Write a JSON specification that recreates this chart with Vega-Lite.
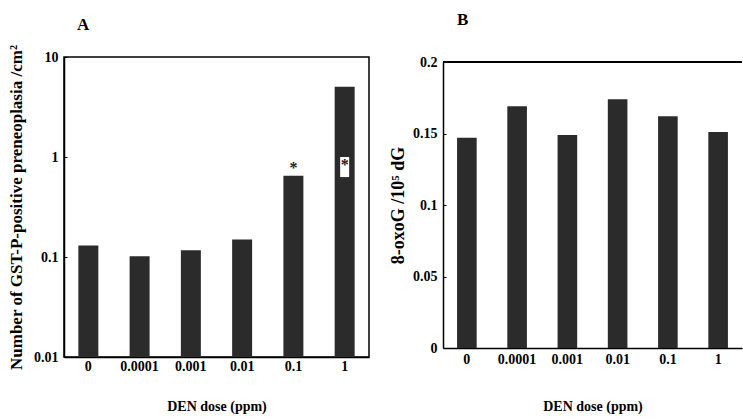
{
  "$schema": "https://vega.github.io/schema/vega-lite/v6.json",
  "background": "white",
  "padding": {"left": 6, "top": 11, "right": 0, "bottom": 0},
  "config": {
    "font": "Liberation Serif",
    "view": {"stroke": "black", "strokeWidth": 1.5},
    "axis": {
      "labelFont": "Liberation Serif", "titleFont": "Liberation Serif",
      "labelFontWeight": "bold", "titleFontWeight": "bold",
      "labelColor": "black", "titleColor": "black",
      "domainColor": "black", "domainWidth": 1.5,
      "tickColor": "black", "grid": false,
      "labelFontSize": 14, "titleFontSize": 14
    },
    "title": {"font": "Liberation Serif", "fontWeight": "bold", "fontSize": 17, "anchor": "start", "color": "black", "frame": "group"},
    "concat": {"spacing": 19}
  },
  "datasets": {
    "d": [
      {"dose": "0", "gst": 0.13, "oxo": 0.147},
      {"dose": "0.0001", "gst": 0.102, "oxo": 0.169},
      {"dose": "0.001", "gst": 0.117, "oxo": 0.149},
      {"dose": "0.01", "gst": 0.15, "oxo": 0.174},
      {"dose": "0.1", "gst": 0.65, "oxo": 0.162},
      {"dose": "1", "gst": 5.05, "oxo": 0.151}
    ],
    "ann": [
      {"dose": "0.1", "y": 0.86, "label": "*", "lo": null, "hi": null},
      {"dose": "1", "y": 0.92, "label": "*", "lo": 0.63, "hi": 1.0}
    ]
  },
  "hconcat": [
    {
      "title": {"text": "A", "dx": 13, "offset": 10},
      "width": 305,
      "height": 300,
      "layer": [
        {
          "data": {"name": "d"},
          "mark": {"type": "bar", "color": "#2b2b2b"},
          "encoding": {
            "x": {"field": "dose", "type": "ordinal", "sort": null,
              "scale": {"paddingInner": 0.61, "paddingOuter": 0.28},
              "axis": {"labelAngle": 0, "ticks": false, "labelPadding": 2, "title": "DEN dose (ppm)", "titlePadding": 26}},
            "y": {"field": "gst", "type": "quantitative",
              "scale": {"type": "log", "domain": [0.01, 10]},
              "axis": {"values": [0.01, 0.1, 1, 10], "format": "~g", "tickSize": -3, "labelPadding": 9, "title": "Number of GST-P-positive preneoplasia /cm²", "titleFontSize": 17, "titlePadding": 8}},
            "y2": {"datum": 0.01}
          }
        },
        {
          "data": {"name": "ann"},
          "transform": [{"filter": "datum.lo != null"}],
          "mark": {"type": "bar", "color": "white", "width": 9},
          "encoding": {
            "x": {"field": "dose", "type": "ordinal", "sort": null},
            "y": {"field": "lo", "type": "quantitative"},
            "y2": {"field": "hi"}
          }
        },
        {
          "data": {"name": "ann"},
          "mark": {"type": "text", "fontSize": 16, "fontWeight": "bold", "font": "Liberation Serif", "color": "#222", "baseline": "middle", "dy": 4},
          "encoding": {
            "x": {"field": "dose", "type": "ordinal", "sort": null},
            "y": {"field": "y", "type": "quantitative"},
            "text": {"field": "label"}
          }
        }
      ]
    },
    {
      "title": {"text": "B", "dx": 14, "offset": 26},
      "width": 299,
      "height": 291,
      "view": {"stroke": null},
      "data": {"name": "d"},
      "layer": [
        {
          "mark": {"type": "bar", "color": "#2b2b2b"},
          "encoding": {
            "x": {"field": "dose", "type": "ordinal", "sort": null,
              "scale": {"paddingInner": 0.61, "paddingOuter": 0.28},
              "axis": {"labelAngle": 0, "ticks": false, "labelPadding": 4, "title": "DEN dose (ppm)", "titlePadding": 33}},
            "y": {"field": "oxo", "type": "quantitative",
              "scale": {"domain": [0, 0.2], "nice": false, "range": [291, 5]},
              "axis": {"values": [0, 0.05, 0.1, 0.15, 0.2], "format": "~g", "tickSize": -3, "labelPadding": 9, "title": "8-oxoG /10⁵ dG", "titleFontSize": 18, "titlePadding": 5}}
          }
        },
        {
          "mark": {"type": "rule", "color": "black", "strokeWidth": 1.5},
          "encoding": {
            "y": {"datum": 0.2}
          }
        }
      ]
    }
  ]
}
